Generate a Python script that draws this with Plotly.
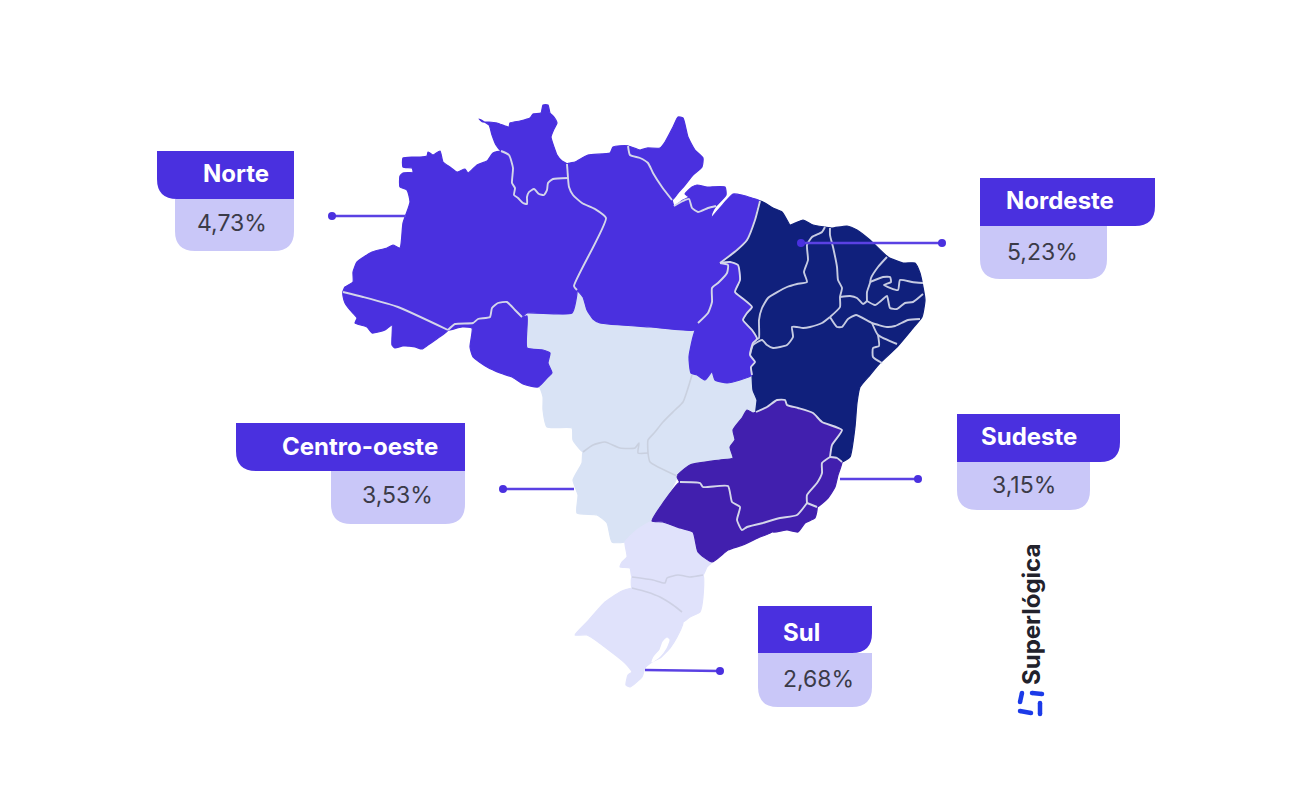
import plotly.graph_objects as go

# ---------- values ----------
regions = ["Norte", "Nordeste", "Centro-oeste", "Sudeste", "Sul"]
values = ["4,73%", "5,23%", "3,53%", "3,15%", "2,68%"]
brand = "Superlógica"

# ---------- outlines ----------
AM = [(403,158),(413,157),(420,157),(427,156),(428,152),(433,155),(440,151),(443,162),(450,167),(457,172),(465,169),(468,173),(477,165),(487,161),(493,153),(501,151),(509,155),(513,168),(512,183),(515,188),(514,195),(518,198),(523,203),(527,204),(527,197),(529,192),(534,189),(539,194),(544,195),(547,190),(548,183),(553,179),(568,178),(569,187),(573,195),(582,203),(595,209),(606,218),(574,286),(577,290),(572,313),(527,313),(522,317),(515,310),(507,302),(498,303),(492,308),(490,317),(478,319),(473,323),(455,324),(448,330),(398,307),(363,297),(343,292),(345,287),(353,282),(353,272),(357,262),(372,252),(387,248),(393,245),(400,248),(403,223),(410,202),(407,190),(400,187),(400,176),(403,173),(413,172),(412,168),(403,167)]
RR = [(479,119),(483,122),(489,122),(497,123),(505,126),(509,127),(510,123),(520,121),(530,118),(533,114),(541,113),(543,105),(548,105),(550,113),(554,117),(557,123),(554,129),(551,137),(554,147),(557,155),(562,161),(567,164),(568,178),(553,179),(548,183),(547,190),(544,195),(539,194),(534,189),(529,192),(527,197),(527,204),(523,203),(518,198),(514,195),(515,188),(512,183),(513,168),(509,155),(501,151),(496,145),(492,135),(489,125)]
AC = [(343,292),(363,297),(398,307),(448,330),(438,338),(428,345),(422,349),(415,347),(403,346),(395,348),(392,345),(392,325),(385,330),(372,333),(367,327),(355,323),(357,318),(350,310),(345,303),(343,296)]
RO = [(448,330),(455,324),(473,323),(478,319),(490,317),(492,308),(498,303),(507,302),(515,310),(522,317),(527,316),(527,348),(543,350),(550,353),(548,363),(552,373),(548,377),(538,387),(523,384),(512,377),(500,373),(487,367),(473,357),(470,347),(472,328),(462,327),(450,330)]
AP = [(630,155),(628,146),(640,150),(647,148),(660,148),(665,142),(673,127),(678,117),(683,118),(688,137),(695,150),(703,158),(702,167),(693,175),(685,185),(678,193),(672,200),(662,187),(653,173),(648,163),(640,158)]
PA = [(567,164),(575,162),(588,155),(610,153),(613,147),(628,146),(630,155),(640,158),(648,163),(653,173),(662,187),(672,200),(674,206),(683,200),(689,197),(685,194),(692,187),(697,185),(707,187),(725,187),(726,195),(716,206),(712,213),(711,218),(720,208),(727,200),(733,194),(742,195),(752,198),(760,201),(755,220),(747,240),(737,250),(720,263),(728,265),(727,273),(718,283),(712,288),(712,302),(708,313),(698,323),(695,330),(650,327),(600,323),(593,319),(587,310),(583,297),(577,290),(574,286),(606,218),(595,209),(582,203),(573,195),(569,187),(568,178)]
TO = [(720,263),(728,265),(727,273),(718,283),(712,288),(712,302),(708,313),(698,323),(693,337),(689,357),(691,373),(697,375),(705,380),(712,372),(715,380),(727,383),(740,380),(752,375),(751,367),(755,362),(750,355),(753,343),(757,339),(752,330),(743,320),(747,313),(752,307),(742,298),(735,292),(740,280),(738,265),(730,262)]
NE = [(760,201),(765,203),(773,208),(782,212),(787,220),(790,225),(803,220),(813,225),(825,227),(832,228),(847,226),(857,230),(870,240),(888,257),(903,263),(915,263),(920,273),(923,287),(925,300),(922,317),(913,328),(897,347),(880,363),(870,375),(860,387),(857,403),(855,427),(850,457),(842,462),(837,458),(830,457),(832,445),(842,430),(822,422),(813,413),(798,408),(787,405),(785,400),(777,400),(767,407),(756,412),(757,400),(753,390),(752,375),(751,367),(755,362),(750,355),(753,343),(757,339),(752,330),(743,320),(747,313),(752,307),(742,298),(735,292),(740,280),(738,265),(730,262),(720,263),(737,250),(747,240),(755,220)]
MT = [(527,313),(572,313),(577,290),(583,297),(587,310),(593,319),(600,323),(650,327),(695,330),(693,337),(689,357),(691,373),(692,375),(683,402),(675,410),(663,422),(655,432),(648,440),(648,453),(638,453),(639,443),(635,448),(620,448),(605,442),(593,445),(583,452),(573,440),(572,428),(547,427),(543,410),(543,397),(540,388),(538,387),(548,377),(552,373),(548,363),(550,353),(543,350),(527,348),(527,316)]
MS = [(583,452),(593,445),(605,442),(620,448),(635,448),(639,443),(638,453),(648,453),(650,462),(677,476),(663,503),(652,521),(637,530),(625,542),(612,542),(607,523),(597,515),(577,513),(578,495),(573,480),(582,463)]
GO = [(692,375),(697,375),(705,380),(712,372),(715,380),(727,383),(740,380),(752,375),(753,390),(757,400),(756,412),(753,413),(747,410),(742,418),(733,430),(735,440),(730,447),(733,458),(720,460),(690,465),(677,476),(650,462),(648,453),(648,440),(655,432),(663,422),(675,410),(683,402)]
MG = [(756,412),(767,407),(777,400),(785,400),(787,405),(798,408),(813,413),(822,422),(842,430),(832,445),(830,457),(822,463),(822,473),(817,483),(807,495),(807,503),(797,515),(780,518),(763,523),(747,527),(742,530),(737,520),(740,507),(732,502),(728,486),(703,487),(700,483),(680,482),(677,476),(690,465),(720,460),(733,458),(730,447),(735,440),(733,430),(742,418),(747,410),(753,413)]
ES = [(830,457),(837,458),(842,462),(838,475),(835,487),(828,498),(817,507),(807,503),(807,495),(817,483),(822,473),(822,463)]
RJ = [(807,503),(817,507),(815,518),(805,523),(798,532),(787,530),(773,532),(763,523),(780,518),(797,515)]
SP = [(680,482),(700,483),(703,487),(728,486),(732,502),(740,507),(737,520),(742,530),(747,527),(763,523),(772,532),(760,537),(743,545),(728,550),(712,562),(698,552),(693,532),(680,528),(663,522),(652,521),(663,503)]
PR = [(652,521),(663,522),(680,528),(693,532),(698,552),(712,562),(707,567),(703,575),(690,577),(678,575),(667,578),(665,583),(653,580),(632,577),(630,568),(620,567),(622,562),(627,557),(625,542),(637,530)]
SC = [(632,577),(653,580),(665,583),(667,578),(678,575),(690,577),(703,575),(703,597),(700,612),(690,617),(683,622),(682,612),(673,605),(660,597),(647,592),(632,588)]
RS = [(632,588),(647,592),(660,597),(673,605),(682,612),(683,623),(677,637),(670,648),(660,658),(652,662),(645,668),(642,677),(630,687),(626,685),(628,675),(632,672),(625,663),(587,635),(575,635),(587,622),(605,602),(620,592)]
LAGOON = [(667,638),(669,640),(666,648),(660,656),(652,662),(654,657),(660,650),(663,642)]

MARAJO_LINE = [(674,206),(683,201),(689,199),(692,208),(698,212),(708,208),(716,206)]
MA_PI = [(825,227),(822,232),(812,237),(807,245),(808,260),(804,272),(807,282),(797,284),(787,287),(768,298),(762,308),(759,320),(759,338),(757,339)]
PI_CE = [(830,228),(830,235),(833,247),(837,267),(838,280),(842,288),(840,297),(840,307),(830,317)]
PI_BA = [(830,317),(822,323),(810,327),(803,328),(797,327),(792,327),(793,337),(787,345),(773,348),(767,345),(762,340),(753,345),(750,355)]
CE_RN = [(887,257),(878,267),(871,278),(870,283),(867,292),(867,301)]
RN_PB = [(870,282),(883,277),(890,277),(891,282),(884,285),(898,290),(900,280),(912,282),(923,283)]
CE_PB = [(840,297),(850,296),(857,298),(863,304),(867,301)]
PB_PE = [(867,301),(875,305),(882,300),(887,296),(890,308),(897,309),(905,303),(913,302),(923,294)]
PE_S = [(830,317),(837,327),(842,327),(848,319),(856,315),(872,323),(887,327),(895,326),(908,320),(920,319)]
AL_SE = [(872,323),(878,335),(897,344)]
SE_BA = [(878,335),(879,346),(873,348),(873,357),(882,363)]

norte_states = [AM, RR, AC, RO, AP, PA, TO]
centro_states = [MT, MS, GO]
sudeste_states = [MG, ES, RJ, SP]
sul_states = [PR, SC, RS]
ne_borders = [MA_PI, PI_CE, PI_BA, CE_RN, RN_PB, CE_PB, PB_PE, PE_S, AL_SE, SE_BA]

# state pairs whose shared stretch of outline is drawn as a pale border
light_pairs = [(AM,RR),(AM,AC),(AM,RO),(AM,PA),(RR,PA),(PA,AP),(PA,TO),(PA,NE),(TO,NE),
               (NE,MG),(NE,ES),(MG,ES),(MG,RJ),(MG,SP),(ES,RJ),(RJ,SP)]
grey_pairs = [(MT,MS),(MT,GO),(GO,MS)]
lilac_pairs = [(PR,SC),(SC,RS)]

# leader lines: from, to
leaders = [((332,216),(406,216)), ((801,243),(942,243)), ((503,489),(574,489)), ((840,479),(918,479)), ((645,670),(720,671))]
leader_dots = [[0], [0,1], [0], [1], [1]]

# callouts
heads = [(157,294,151,199,"l"), (980,1155,178,226,"r"), (236,465,423,471,"l"), (957,1120,414,462,"r"), (758,872,606,653,"r")]
bodies = [(175,294,251), (980,1107,279), (331,465,524), (957,1090,510), (758,872,707)]
title_pos = [(236,173), (1060,200), (360,446), (1029,436), (801,632)]
value_pos = [(232,223), (1042,252), (397,495), (1024,485), (818,679)]

logo_parts = [[(1022,693),(1020,702)], [(1032,693),(1042,694)], [(1040,703),(1040,714)], [(1020,711),(1031,713)]]

NORTE_C, NE_C, CO_C, SE_C, SUL_C = "#4a30df", "#10207c", "#d9e3f5", "#411fae", "#e0e2fb"
HEAD_C, BODY_C, LEAD_C = "#4a30df", "#c9c7f8", "#5a41e3"
SMOOTH = 0.5

fig = go.Figure()

def poly(pts, fill):
    xs = [p[0] for p in pts] + [pts[0][0]]
    ys = [p[1] for p in pts] + [pts[0][1]]
    fig.add_trace(go.Scatter(x=xs, y=ys, mode="lines", fill="toself", fillcolor=fill,
                             line=dict(color=fill, width=1.2, shape="spline", smoothing=SMOOTH),
                             hoverinfo="skip", showlegend=False))

def polyline(pts, edge, width=1.9):
    fig.add_trace(go.Scatter(x=[p[0] for p in pts], y=[p[1] for p in pts], mode="lines",
                             line=dict(color=edge, width=width, shape="spline", smoothing=SMOOTH),
                             hoverinfo="skip", showlegend=False))

def shared_runs(a, b):
    """Stretches of outline a that also belong to outline b."""
    edges_b = set()
    for i in range(len(b)):
        p, q = b[i], b[(i + 1) % len(b)]
        edges_b.add((p, q)); edges_b.add((q, p))
    runs, cur = [], []
    for i in range(len(a)):
        p, q = a[i], a[(i + 1) % len(a)]
        if (p, q) in edges_b:
            if not cur:
                cur = [p]
            cur.append(q)
        elif cur:
            runs.append(cur); cur = []
    if cur:
        runs.append(cur)
    return runs

for s in centro_states:
    poly(s, CO_C)
for s in sul_states:
    poly(s, SUL_C)
for s in [AM, RR, AC, RO, AP, PA]:
    poly(s, NORTE_C)
poly(NE, NE_C)
poly(TO, NORTE_C)
for s in sudeste_states:
    poly(s, SE_C)
poly(LAGOON, "#ffffff")

for b in ne_borders:
    polyline(b, "#c6cbe2")
polyline(MARAJO_LINE, "#d4d6ea")
for a, b in light_pairs:
    for run in shared_runs(a, b):
        polyline(run, "#d4d6ea")
for a, b in grey_pairs:
    for run in shared_runs(a, b):
        polyline(run, "#c9d0df", 1.6)
for a, b in lilac_pairs:
    for run in shared_runs(a, b):
        polyline(run, "#cdd0e4", 1.6)

for (a, b), dots in zip(leaders, leader_dots):
    fig.add_trace(go.Scatter(x=[a[0], b[0]], y=[a[1], b[1]], mode="lines",
                             line=dict(color=LEAD_C, width=2.4), hoverinfo="skip", showlegend=False))
    pts = [(a, b)[d] for d in dots]
    fig.add_trace(go.Scatter(x=[p[0] for p in pts], y=[p[1] for p in pts], mode="markers",
                             marker=dict(color="#4a30df", size=8), hoverinfo="skip", showlegend=False))

for part in logo_parts:
    fig.add_trace(go.Scatter(x=[p[0] for p in part], y=[p[1] for p in part], mode="lines+markers",
                             line=dict(color="#1c3be8", width=4.5), marker=dict(color="#1c3be8", size=4.5),
                             hoverinfo="skip", showlegend=False))

shapes, annotations = [], []
R = 20
for h, b, tp, vp, name, val in zip(heads, bodies, title_pos, value_pos, regions, values):
    x0, x1, y0, y1, side = h
    if side == "l":
        hp = f"M{x0},{y0} L{x1},{y0} L{x1},{y1} L{x0+R},{y1} Q{x0},{y1} {x0},{y1-R} Z"
    else:
        hp = f"M{x0},{y0} L{x1},{y0} L{x1},{y1-R} Q{x1},{y1} {x1-R},{y1} L{x0},{y1} Z"
    bx0, bx1, by1 = b
    bp = f"M{bx0},{y1} L{bx1},{y1} L{bx1},{by1-R} Q{bx1},{by1} {bx1-R},{by1} L{bx0+R},{by1} Q{bx0},{by1} {bx0},{by1-R} Z"
    shapes.append(dict(type="path", path=bp, fillcolor=BODY_C, line=dict(width=0), xref="x", yref="y", layer="below"))
    shapes.append(dict(type="path", path=hp, fillcolor=HEAD_C, line=dict(width=0), xref="x", yref="y", layer="below"))
    annotations.append(dict(x=tp[0], y=tp[1], xref="x", yref="y", text=f"<b>{name}</b>", showarrow=False,
                            font=dict(family="Inter", size=24, color="#ffffff")))
    annotations.append(dict(x=vp[0], y=vp[1], xref="x", yref="y", text=val, showarrow=False,
                            font=dict(family="Inter", size=23, color="#3b3b48")))

annotations.append(dict(x=1031, y=615, xref="x", yref="y", text=f"<b>{brand}</b>", textangle=-90, showarrow=False,
                        font=dict(family="Inter", size=24, color="#22222c")))

fig.update_layout(
    width=1312, height=800, margin=dict(l=0, r=0, t=0, b=0),
    paper_bgcolor="#ffffff", plot_bgcolor="#ffffff", showlegend=False,
    xaxis=dict(range=[0, 1312], visible=False, fixedrange=True),
    yaxis=dict(range=[800, 0], visible=False, fixedrange=True),
    shapes=shapes, annotations=annotations,
)
fig.write_html("out.html", config={"displayModeBar": False},
               post_script="document.body.style.margin='0';document.documentElement.style.overflow='hidden';")
